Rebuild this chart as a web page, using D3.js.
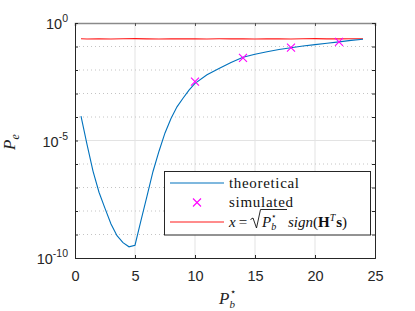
<!DOCTYPE html>
<html><head><meta charset="utf-8">
<script src="https://cdn.jsdelivr.net/npm/d3@7"></script>
<style>body{margin:0;background:#fff}svg{display:block}</style>
</head><body>
<svg id="c" width="415" height="311"></svg>
<script>
// ---- data ----
const theoX = [0.5,1,1.5,2,2.5,3,3.5,4,4.5,5,5.5,6,6.5,7,7.5,8,8.5,9,9.5,10,11,12,13,14,15,16,17,18,19,20,21,22,23,24];
const theoY = [1.1e-4,6.8e-6,5.0e-7,6.3e-8,1.3e-8,2.8e-9,8.9e-10,4.5e-10,3.0e-10,3.5e-10,4.0e-9,4.3e-8,4.8e-7,3.5e-6,2.1e-5,8.7e-5,2.7e-4,6.3e-4,1.4e-3,2.7e-3,6.3e-3,0.0117,0.021,0.035,0.047,0.060,0.074,0.089,0.105,0.12,0.138,0.158,0.182,0.204];
const simX = [10,14,18,22];
const simY = [3.2e-3,0.033,0.089,0.158];
const redX = [0.5,1,2,3,4,5,6,7,8,9,10,11,12,13,14,15,16,17,18,19,20,21,22,23,24];
const redY = [0.214,0.210,0.215,0.209,0.213,0.216,0.211,0.208,0.214,0.212,0.215,0.210,0.213,0.211,0.215,0.209,0.212,0.214,0.210,0.213,0.216,0.211,0.212,0.214,0.213];
const xTicks = [0,5,10,15,20,25];
const yMajor = [1e-10,1e-5,1];
const yMajorExp = ["-10","-5","0"];
const yMinor = [1e-9,1e-8,1e-7,1e-6,1e-4,1e-3,1e-2,1e-1];
const legendLabels = ["theoretical","simulated"];

const svg = d3.select("#c");
const L=75,R=375,T=23,B=258;
const x = d3.scaleLinear().domain([0,25]).range([L,R]);
const y = d3.scaleLog().domain([1e-10,1]).range([B,T]);
const sans = "'Liberation Sans', Arial, sans-serif";
const serif = "'Liberation Serif', 'DejaVu Serif', serif";

// grid
const g = svg.append("g");
g.selectAll(".vg").data([5,10,15,20]).join("line")
  .attr("x1",d=>x(d)).attr("x2",d=>x(d)).attr("y1",T).attr("y2",B)
  .attr("stroke","#e3e3e3").attr("stroke-width",1);
g.append("line").attr("x1",L).attr("x2",R).attr("y1",y(1e-5)).attr("y2",y(1e-5))
  .attr("stroke","#e3e3e3").attr("stroke-width",1);
g.selectAll(".mg").data(yMinor).join("line")
  .attr("x1",L).attr("x2",R).attr("y1",d=>y(d)).attr("y2",d=>y(d))
  .attr("stroke","#c4c4c4").attr("stroke-width",1).attr("stroke-dasharray","1,3");

// axes
const xa = svg.append("g").attr("transform",`translate(0,${B})`)
  .call(d3.axisBottom(x).tickValues(xTicks).tickSize(-3).tickPadding(13));
xa.select(".domain").attr("stroke","#262626");
xa.selectAll(".tick line").attr("stroke","#262626");
xa.selectAll("text").attr("font-family",sans).attr("font-size","14.5px").attr("fill","#262626");
const xt = svg.append("g").attr("transform",`translate(0,${T})`)
  .call(d3.axisTop(x).tickValues(xTicks).tickSize(-3).tickFormat(""));
xt.select(".domain").attr("stroke","#8a8a8a").attr("stroke-width",1.6);
xt.selectAll(".tick line").attr("stroke","#555");

const ya = svg.append("g").attr("transform",`translate(${L},0)`)
  .call(d3.axisLeft(y).tickValues(yMajor.concat(yMinor)).tickSize(-3).tickFormat(""));
ya.select(".domain").attr("stroke","#262626");
ya.selectAll(".tick line").attr("stroke","#262626");
const yr = svg.append("g").attr("transform",`translate(${R},0)`)
  .call(d3.axisRight(y).tickValues(yMajor.concat(yMinor)).tickSize(-3).tickFormat(""));
yr.select(".domain").attr("stroke","#262626");
yr.selectAll(".tick line").attr("stroke","#262626");

// y tick labels with superscripts
yMajor.forEach((v,i)=>{
  const t = svg.append("text").attr("x",L-7).attr("y",y(v)+6)
    .attr("text-anchor","end").attr("font-family",sans).attr("font-size","14.5px").attr("fill","#262626");
  t.append("tspan").text("10");
  t.append("tspan").attr("font-size","10.5px").attr("dy",-7).text(yMajorExp[i]);
});

// axis labels
const xl = svg.append("text").attr("x",219).attr("y",304).attr("font-family",serif)
  .attr("font-style","italic").attr("font-size","17px").attr("fill","#262626");
xl.append("tspan").text("P");
xl.append("tspan").attr("font-size","11px").attr("dy",4).text("b");
xl.append("tspan").attr("font-size","10px").attr("font-style","normal").attr("dx",-5).attr("dy",-13).text("⋆");

const yl = svg.append("text").attr("transform","translate(15,150) rotate(-90)")
  .attr("font-family",serif).attr("font-style","italic").attr("font-size","17px").attr("fill","#262626");
yl.append("tspan").text("P");
yl.append("tspan").attr("font-size","12px").attr("dy",4).text("e");

// clip
svg.append("clipPath").attr("id","clip").append("rect").attr("x",L).attr("y",T).attr("width",R-L).attr("height",B-T);
const plot = svg.append("g").attr("clip-path","url(#clip)");

const line = d3.line().x(d=>x(d[0])).y(d=>y(d[1]));
plot.append("path").datum(redX.map((d,i)=>[d,redY[i]]))
  .attr("d",line).attr("fill","none").attr("stroke","#ff1a1a").attr("stroke-width",1.1);
plot.append("path").datum(theoX.map((d,i)=>[d,theoY[i]]))
  .attr("d",line).attr("fill","none").attr("stroke","#0072BD").attr("stroke-width",1.1);

const s=4;
const mk = plot.selectAll(".mk").data(simX.map((d,i)=>[d,simY[i]])).join("g")
  .attr("transform",d=>`translate(${x(d[0])},${y(d[1])})`);
mk.append("path").attr("d",`M${-s},${-s}L${s},${s}M${-s},${s}L${s},${-s}`)
  .attr("stroke","#ff00ff").attr("stroke-width",1.1).attr("fill","none");

// legend
const lg = svg.append("g");
lg.append("rect").attr("x",164.5).attr("y",171.5).attr("width",206).attr("height",63.5)
  .attr("fill","#fff").attr("stroke","#262626").attr("stroke-width",1);
const ly=[183,202.5,222];
const lw=[70,64];
lg.append("line").attr("x1",170).attr("x2",224).attr("y1",ly[0]).attr("y2",ly[0]).attr("stroke","#0072BD").attr("stroke-width",1.1);
lg.append("path").attr("d",`M${197-s},${ly[1]-s}L${197+s},${ly[1]+s}M${197-s},${ly[1]+s}L${197+s},${ly[1]-s}`)
  .attr("stroke","#ff00ff").attr("stroke-width",1.1);
lg.append("line").attr("x1",170).attr("x2",224).attr("y1",ly[2]).attr("y2",ly[2]).attr("stroke","#ff1a1a").attr("stroke-width",1.1);
legendLabels.forEach((t,i)=>{
  lg.append("text").attr("x",229).attr("y",ly[i]+4.5).attr("font-family",serif)
    .attr("font-size","15px").attr("fill","#111").attr("textLength",lw[i]).text(t);
});
// math label: x = sqrt(P_b^*) sign(H^T s)
const m = lg.append("text").attr("x",229).attr("y",ly[2]+4.5).attr("font-family",serif)
  .attr("font-size","15px").attr("fill","#111");
m.append("tspan").attr("font-style","italic").text("x");
m.append("tspan").attr("dx",3).text("=");
m.append("tspan").attr("x",262).attr("font-style","italic").text("P");
m.append("tspan").attr("font-style","italic").attr("font-size","10px").attr("dy",3).text("b");
m.append("tspan").attr("font-size","9px").attr("dx",-5).attr("dy",-11).text("⋆");
m.append("tspan").attr("x",288).attr("dy",8).attr("font-style","italic").text("sign");
m.append("tspan").text("(");
m.append("tspan").attr("font-weight","bold").text("H");
m.append("tspan").attr("font-style","italic").attr("font-size","10px").attr("dy",-6).text("T");
m.append("tspan").attr("font-weight","bold").attr("dy",6).attr("dx",1).text("s");
m.append("tspan").text(")");
// radical sign
lg.append("path").attr("d","M250.5,219.5 L253,218 L256.5,228 L260.5,209.5 L287,209.5")
  .attr("fill","none").attr("stroke","#111").attr("stroke-width",0.9).attr("stroke-linejoin","miter");
</script>
</body></html>
